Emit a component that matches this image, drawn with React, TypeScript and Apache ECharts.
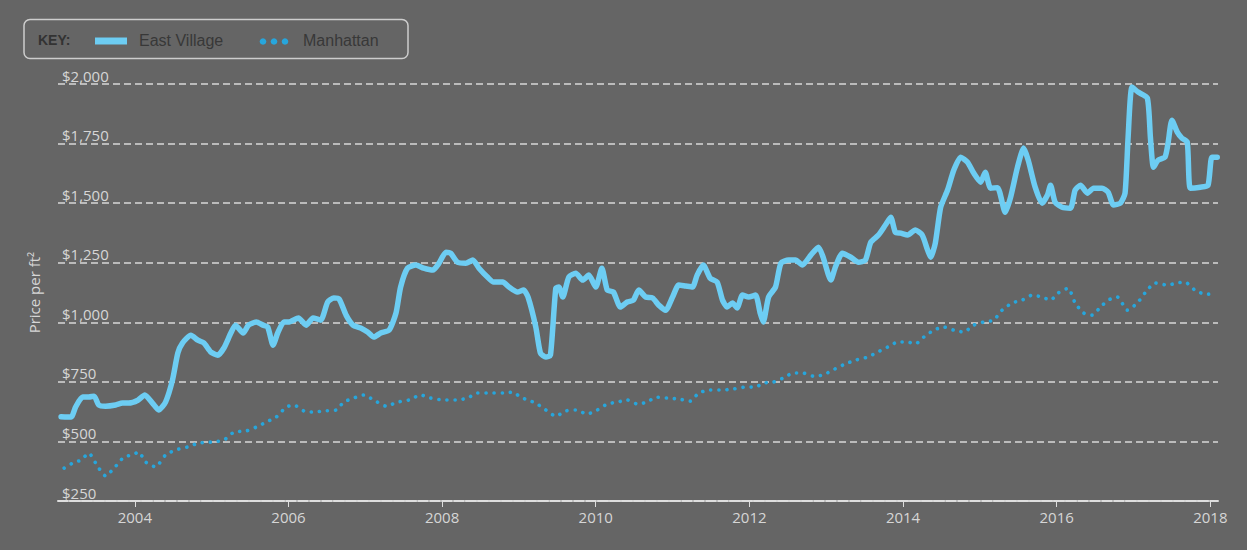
import React, { useEffect, useRef } from "react";
import * as echarts from "echarts";

const evYears = [
  2003.04, 2003.17, 2003.23, 2003.32, 2003.4, 2003.47, 2003.53, 2003.62, 2003.75, 2003.84, 2003.92,
  2004.04, 2004.13, 2004.23, 2004.31, 2004.4, 2004.49, 2004.56, 2004.62, 2004.73, 2004.82, 2004.9, 2004.99,
  2005.08, 2005.16, 2005.25, 2005.31, 2005.41, 2005.48, 2005.58, 2005.67, 2005.73, 2005.8, 2005.86, 2005.94,
  2006.0, 2006.13, 2006.23, 2006.32, 2006.42, 2006.51, 2006.59, 2006.66, 2006.75, 2006.84, 2006.94,
  2007.03, 2007.11, 2007.2, 2007.31, 2007.4, 2007.46, 2007.55, 2007.66, 2007.76, 2007.88, 2007.96,
  2008.05, 2008.11, 2008.2, 2008.31, 2008.4, 2008.48, 2008.59, 2008.67, 2008.79, 2008.87, 2008.98,
  2009.06, 2009.12, 2009.22, 2009.28, 2009.35, 2009.41, 2009.48, 2009.52, 2009.57, 2009.65, 2009.74, 2009.83, 2009.91,
  2010.0, 2010.08, 2010.15, 2010.23, 2010.32, 2010.41, 2010.49, 2010.56, 2010.65, 2010.74, 2010.82, 2010.91,
  2011.0, 2011.08, 2011.17, 2011.26, 2011.32, 2011.4, 2011.49, 2011.58, 2011.65, 2011.71, 2011.78, 2011.84, 2011.91, 2011.99,
  2012.08, 2012.14, 2012.18, 2012.25, 2012.34, 2012.41, 2012.51, 2012.6, 2012.69, 2012.8, 2012.9, 2012.96,
  2013.06, 2013.12, 2013.21, 2013.32, 2013.42, 2013.51, 2013.58, 2013.68, 2013.77, 2013.84, 2013.9, 2013.97,
  2014.06, 2014.16, 2014.25, 2014.32, 2014.36, 2014.42, 2014.49, 2014.58, 2014.66, 2014.75, 2014.84, 2014.92,
  2015.01, 2015.07, 2015.14, 2015.23, 2015.33, 2015.4, 2015.49, 2015.57, 2015.63, 2015.72, 2015.81, 2015.88, 2015.92, 2015.98,
  2016.07, 2016.18, 2016.24, 2016.31, 2016.4, 2016.48, 2016.59, 2016.67, 2016.74, 2016.83, 2016.89, 2016.93, 2016.98,
  2017.06, 2017.18, 2017.22, 2017.26, 2017.32, 2017.41, 2017.45, 2017.5, 2017.57, 2017.63, 2017.7, 2017.74, 2017.87, 2017.97,
  2018.02, 2018.09,
];
const evValues = [
  604, 602, 645, 686, 686, 690, 653, 648, 653, 661, 661,
  673, 695, 661, 632, 665, 757, 871, 913, 946, 925, 913, 875,
  862, 892, 955, 988, 955, 988, 1001, 988, 980, 904, 955, 1001,
  1001, 1018, 988, 1018, 1009, 1085, 1102, 1097, 1030, 988, 976,
  959, 938, 955, 967, 1039, 1148, 1227, 1240, 1227, 1219, 1248,
  1294, 1290, 1252, 1248, 1261, 1227, 1190, 1169, 1169, 1148, 1127,
  1135, 1105, 980, 871, 854, 862, 1143, 1148, 1106, 1190, 1206, 1177, 1198,
  1148, 1227, 1135, 1127, 1064, 1085, 1093, 1135, 1106, 1102, 1072, 1051,
  1106, 1156, 1152, 1148, 1198, 1240, 1185, 1169, 1093, 1064, 1081, 1060, 1114, 1106,
  1114, 1039, 1001, 1106, 1148, 1248, 1261, 1261, 1240, 1282, 1315, 1273,
  1177, 1232, 1290, 1273, 1252, 1261, 1336, 1366, 1408, 1441, 1378, 1374,
  1366, 1387, 1366, 1303, 1273, 1332, 1483, 1555, 1638, 1693, 1672, 1626,
  1588, 1630, 1563, 1565, 1462, 1525, 1651, 1731, 1680, 1567, 1500, 1534, 1575, 1504,
  1483, 1479, 1555, 1575, 1542, 1563, 1563, 1546, 1492, 1500, 1542, 1777, 1987,
  1966, 1941, 1777, 1651, 1680, 1693, 1752, 1848, 1798, 1773, 1756, 1563, 1567, 1575,
  1693, 1693,
];

const mnYears = [
  2003.08, 2003.19, 2003.3, 2003.4, 2003.52, 2003.62, 2003.73, 2003.86, 2003.97,
  2004.05, 2004.14, 2004.27, 2004.4, 2004.53, 2004.69, 2004.83,
  2005.02, 2005.16, 2005.29, 2005.45, 2005.58, 2005.71, 2005.84, 2005.97,
  2006.07, 2006.2, 2006.33, 2006.46, 2006.62, 2006.72, 2006.85, 2006.98,
  2007.11, 2007.27, 2007.42, 2007.57, 2007.72, 2007.85,
  2008.02, 2008.2, 2008.33, 2008.46, 2008.63, 2008.8, 2008.92,
  2009.02, 2009.13, 2009.22, 2009.35, 2009.48, 2009.61, 2009.74, 2009.89,
  2010.02, 2010.15, 2010.28, 2010.41, 2010.54, 2010.67, 2010.78, 2010.93,
  2011.08, 2011.23, 2011.34, 2011.49, 2011.65, 2011.79, 2011.95,
  2012.08, 2012.18, 2012.31, 2012.44, 2012.57, 2012.7, 2012.83, 2012.96,
  2013.09, 2013.22, 2013.38, 2013.54, 2013.67, 2013.8, 2013.93,
  2014.06, 2014.16, 2014.27, 2014.4, 2014.53, 2014.66, 2014.79, 2014.92,
  2015.05, 2015.18, 2015.29, 2015.42, 2015.55, 2015.68, 2015.81, 2015.92,
  2016.02, 2016.15, 2016.24, 2016.35, 2016.46, 2016.57, 2016.67, 2016.79, 2016.92,
  2017.05, 2017.15, 2017.28, 2017.44, 2017.57, 2017.67, 2017.8, 2017.93,
  2018.02,
];
const mnValues = [
  388, 409, 422, 451, 393, 355, 388, 435, 443,
  456, 414, 393, 443, 464, 477, 493,
  498, 506, 539, 544, 560, 581, 602, 644,
  653, 628, 623, 628, 632, 665, 682, 695,
  674, 648, 665, 674, 695, 682,
  674, 674, 682, 703, 703, 703, 707,
  686, 672, 661, 632, 606, 628, 632, 615,
  632, 657, 665, 674, 657, 665, 686, 682,
  678, 669, 703, 716, 716, 720, 728,
  728, 745, 749, 766, 787, 787, 774, 779,
  800, 821, 841, 854, 875, 896, 917,
  917, 909, 938, 967, 980, 967, 959, 988,
  1001, 1009, 1051, 1081, 1093, 1114, 1106, 1093,
  1123, 1143, 1081, 1039, 1030, 1064, 1093, 1106, 1051,
  1081, 1123, 1165, 1156, 1165, 1169, 1135, 1118,
  1118,
];

const xTickYears = [2004, 2006, 2008, 2010, 2012, 2014, 2016, 2018];
const seriesNames = ["East Village", "Manhattan"];

const BG = "#656565";
const EV_COLOR = "#6dcdf3";
const MN_COLOR = "#27a6dc";
const TEXT = "#d6d6d6";

export default function App() {
  const ref = useRef<HTMLDivElement>(null);

  useEffect(() => {
    document.body.style.margin = "0";
    document.body.style.background = BG;
    if (!ref.current) return;
    const chart = echarts.init(ref.current, null, { renderer: "svg" });
    const evData = evYears.map((y, i) => [y, evValues[i]]);
    const mnData = mnYears.map((y, i) => [y, mnValues[i]]);

    chart.setOption({
      animation: false,
      backgroundColor: BG,
      grid: { left: 58, right: 29, top: 84, bottom: 49 },
      xAxis: {
        type: "value",
        min: 2003,
        max: 2018.1,
        axisLine: {
          show: true,
          lineStyle: { color: "#dedede", width: 2, type: [10, 2] },
        },
        axisTick: {
          show: true,
          customValues: xTickYears,
          length: 6,
          lineStyle: { color: "#dedede", width: 1 },
        },
        axisLabel: {
          customValues: xTickYears,
          color: TEXT,
          fontFamily: "Open Sans",
          fontSize: 15,
          margin: 8,
          formatter: (v: number) => String(Math.round(v)),
        },
        splitLine: { show: false },
      },
      yAxis: {
        type: "value",
        min: 250,
        max: 2000,
        interval: 250,
        name: "Price per ft²",
        nameLocation: "middle",
        nameRotate: 90,
        nameGap: 17,
        nameTextStyle: { color: TEXT, fontFamily: "Open Sans", fontSize: 15 },
        axisLine: { show: false },
        axisTick: { show: false },
        axisLabel: {
          inside: true,
          margin: 4,
          verticalAlign: "bottom",
          padding: [0, 0, 1, 0],
          color: TEXT,
          fontFamily: "Open Sans",
          fontSize: 15,
          formatter: (v: number) => "$" + v.toLocaleString("en-US"),
        },
        splitLine: {
          show: true,
          lineStyle: { color: "#d8d8d8", width: 1.5, type: [7, 4] },
        },
      },
      graphic: [
        {
          type: "rect",
          shape: { x: 24, y: 19.5, width: 384, height: 39, r: 6 },
          style: { fill: "none", stroke: "#cdcdcd", lineWidth: 1.5 },
        },
        {
          type: "text",
          x: 38,
          y: 40,
          style: {
            text: "KEY:",
            fill: "#333333",
            font: "bold 14px 'Liberation Sans', Arial, sans-serif",
            verticalAlign: "middle",
          },
        },
        {
          type: "rect",
          shape: { x: 95, y: 37.5, width: 32, height: 7 },
          style: { fill: EV_COLOR },
        },
        {
          type: "text",
          x: 139,
          y: 40,
          style: {
            text: seriesNames[0],
            fill: "#383838",
            font: "16px 'Liberation Sans', Arial, sans-serif",
            verticalAlign: "middle",
          },
        },
        { type: "circle", shape: { cx: 263, cy: 41.5, r: 3.3 }, style: { fill: MN_COLOR } },
        { type: "circle", shape: { cx: 274, cy: 41.5, r: 3.3 }, style: { fill: MN_COLOR } },
        { type: "circle", shape: { cx: 285, cy: 41.5, r: 3.3 }, style: { fill: MN_COLOR } },
        {
          type: "text",
          x: 303,
          y: 40,
          style: {
            text: seriesNames[1],
            fill: "#383838",
            font: "16px 'Liberation Sans', Arial, sans-serif",
            verticalAlign: "middle",
          },
        },
      ],
      series: [
        {
          name: seriesNames[1],
          type: "line",
          data: mnData,
          showSymbol: false,
          smooth: 0.2,
          lineStyle: {
            color: MN_COLOR,
            width: 3.6,
            type: [0.1, 8],
            cap: "round",
          },
          z: 2,
        },
        {
          name: seriesNames[0],
          type: "line",
          data: evData,
          showSymbol: false,
          smooth: 0.2,
          lineStyle: {
            color: EV_COLOR,
            width: 5.5,
            cap: "round",
            join: "round",
          },
          z: 3,
        },
      ],
    });

    return () => {
      chart.dispose();
    };
  }, []);

  return (
    <div
      ref={ref}
      style={{ position: "fixed", left: 0, top: 0, width: 1247, height: 550 }}
    />
  );
}
